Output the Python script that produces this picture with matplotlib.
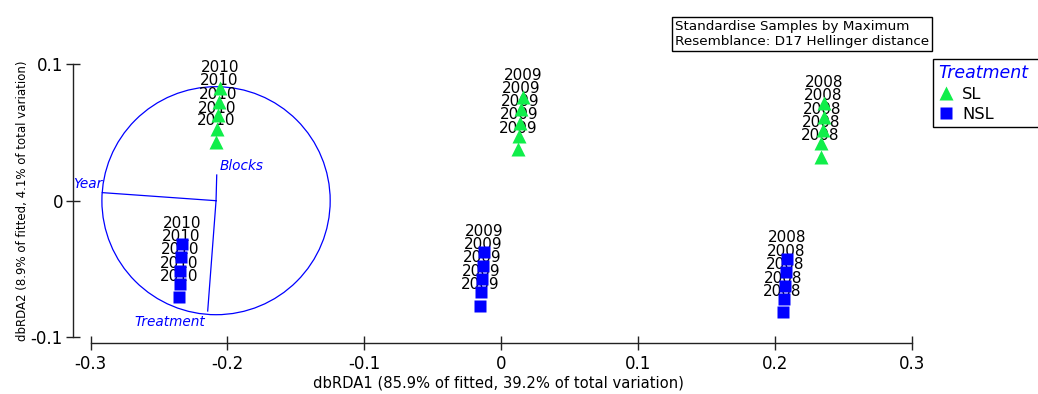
import matplotlib
matplotlib.use('Agg')
import matplotlib.pyplot as plt
from matplotlib.patches import Circle

# site scores (dbRDA1, dbRDA2)
sl_x = [-0.2054, -0.2059, -0.2067, -0.2078, -0.2083,
        0.0159, 0.0146, 0.0139, 0.0132, 0.0122,
        0.2361, 0.2356, 0.2349, 0.2339, 0.2334]
sl_y = [0.0822, 0.0724, 0.0627, 0.0524, 0.0432,
        0.0761, 0.0669, 0.0571, 0.0476, 0.0378,
        0.0713, 0.0615, 0.0517, 0.0420, 0.0322]
sl_year = ['2010'] * 5 + ['2009'] * 5 + ['2008'] * 5

nsl_x = [-0.2334, -0.2339, -0.2345, -0.2350, -0.2356,
         -0.0124, -0.0131, -0.0137, -0.0144, -0.0151,
         0.2088, 0.2080, 0.2072, 0.2064, 0.2056]
nsl_y = [-0.0317, -0.0414, -0.0512, -0.0610, -0.0707,
         -0.0377, -0.0475, -0.0572, -0.0669, -0.0767,
         -0.0426, -0.0524, -0.0621, -0.0719, -0.0816]
nsl_year = ['2010'] * 5 + ['2009'] * 5 + ['2008'] * 5

# vector overlay (multiple partial correlation)
circle_center = (-0.2083, 0.0)
circle_radius = 0.0834
vector_names = ['Year', 'Blocks', 'Treatment']
vector_x = [-0.2914, -0.2078, -0.2144]
vector_y = [0.0059, 0.0188, -0.0807]

xticks = [-0.3, -0.2, -0.1, 0, 0.1, 0.2, 0.3]
xtick_labels = ['-0.3', '-0.2', '-0.1', '0', '0.1', '0.2', '0.3']
yticks = [-0.1, 0, 0.1]
ytick_labels = ['-0.1', '0', '0.1']

green = '#10EE4A'
blue = '#0000FF'

W, H = 1038, 394
fig = plt.figure(figsize=(W / 100, H / 100), dpi=100)
ax = fig.add_axes([73.3 / W, 1 - 343.3 / H, 838.4 / W, 293.3 / H])
ax.set_xlim(-0.3126, 0.3)
ax.set_ylim(-0.10432, 0.11024)

# circle + vectors
ax.add_patch(Circle(circle_center, circle_radius, fill=False, ec=blue, lw=0.9, zorder=1))
# label offsets in points (style only)
offsets = {'Year': ((0, 6), 'right'), 'Blocks': ((2, 6.5), 'left'), 'Treatment': ((-1.5, -8), 'right')}
for name, vx, vy in zip(vector_names, vector_x, vector_y):
    ax.plot([circle_center[0], vx], [circle_center[1], vy], color=blue, lw=0.9, zorder=1)
    off, ha = offsets[name]
    ax.annotate(name, (vx, vy), xytext=off, textcoords='offset points', ha=ha, va='center',
                color=blue, style='italic', fontsize=9.8, clip_on=(name == 'Year'),
                annotation_clip=False, zorder=2)

# year labels
for xs, ys, yrs in [(sl_x, sl_y, sl_year), (nsl_x, nsl_y, nsl_year)]:
    for x, y, yr in zip(xs, ys, yrs):
        ax.annotate(yr, (x, y), xytext=(0, 15.1), textcoords='offset points', ha='center',
                    va='center', fontsize=11, color='black', annotation_clip=False, zorder=2)

l_sl, = ax.plot(sl_x, sl_y, '^', color=green, ms=9.5, mec='none', ls='none', zorder=3, label='SL')
l_nsl, = ax.plot(nsl_x, nsl_y, 's', color=blue, ms=9.0, mec='none', ls='none', zorder=3, label='NSL')

for s in ['top', 'right']:
    ax.spines[s].set_visible(False)
ax.spines['left'].set_bounds(-0.1, 0.1)
ax.spines['bottom'].set_bounds(-0.3, 0.3)
for s in ['left', 'bottom']:
    ax.spines[s].set_color('#222222')
    ax.spines[s].set_linewidth(1)
ax.set_xticks(xticks)
ax.set_xticklabels(xtick_labels)
ax.set_yticks(yticks)
ax.set_yticklabels(ytick_labels)
ax.tick_params(direction='inout', length=10, width=1, color='#222222', labelsize=12)
ax.tick_params(axis='x', pad=3.5)
ax.tick_params(axis='y', pad=2.5)

fig.text(498 / W, 1 - 383 / H, 'dbRDA1 (85.9% of fitted, 39.2% of total variation)',
         ha='center', va='center', fontsize=10.6)
fig.text(23 / W, 1 - 201 / H, 'dbRDA2 (8.9% of fitted, 4.1% of total variation)',
         ha='center', va='center', rotation=90, fontsize=8.5)

fig.text(675 / W, 1 - 34 / H, 'Standardise Samples by Maximum\nResemblance: D17 Hellinger distance',
         ha='left', va='center', fontsize=9.7, linespacing=1.15,
         bbox=dict(boxstyle='square,pad=0.25', fc='white', ec='black', lw=1))

leg = fig.legend(handles=[l_sl, l_nsl], loc='upper left',
                 bbox_to_anchor=(933 / W, 1 - 59 / H, 130 / W, 0), mode='expand',
                 borderaxespad=0, title='Treatment',
                 title_fontproperties={'style': 'italic', 'size': 12.5}, alignment='left',
                 fontsize=11.7, frameon=True, fancybox=False, framealpha=1, edgecolor='black',
                 handlelength=1.0, handletextpad=0.5, borderpad=0.3, labelspacing=0.3)
leg.get_frame().set_linewidth(1)
leg.get_title().set_color(blue)

fig.savefig('out.png', dpi=100)
